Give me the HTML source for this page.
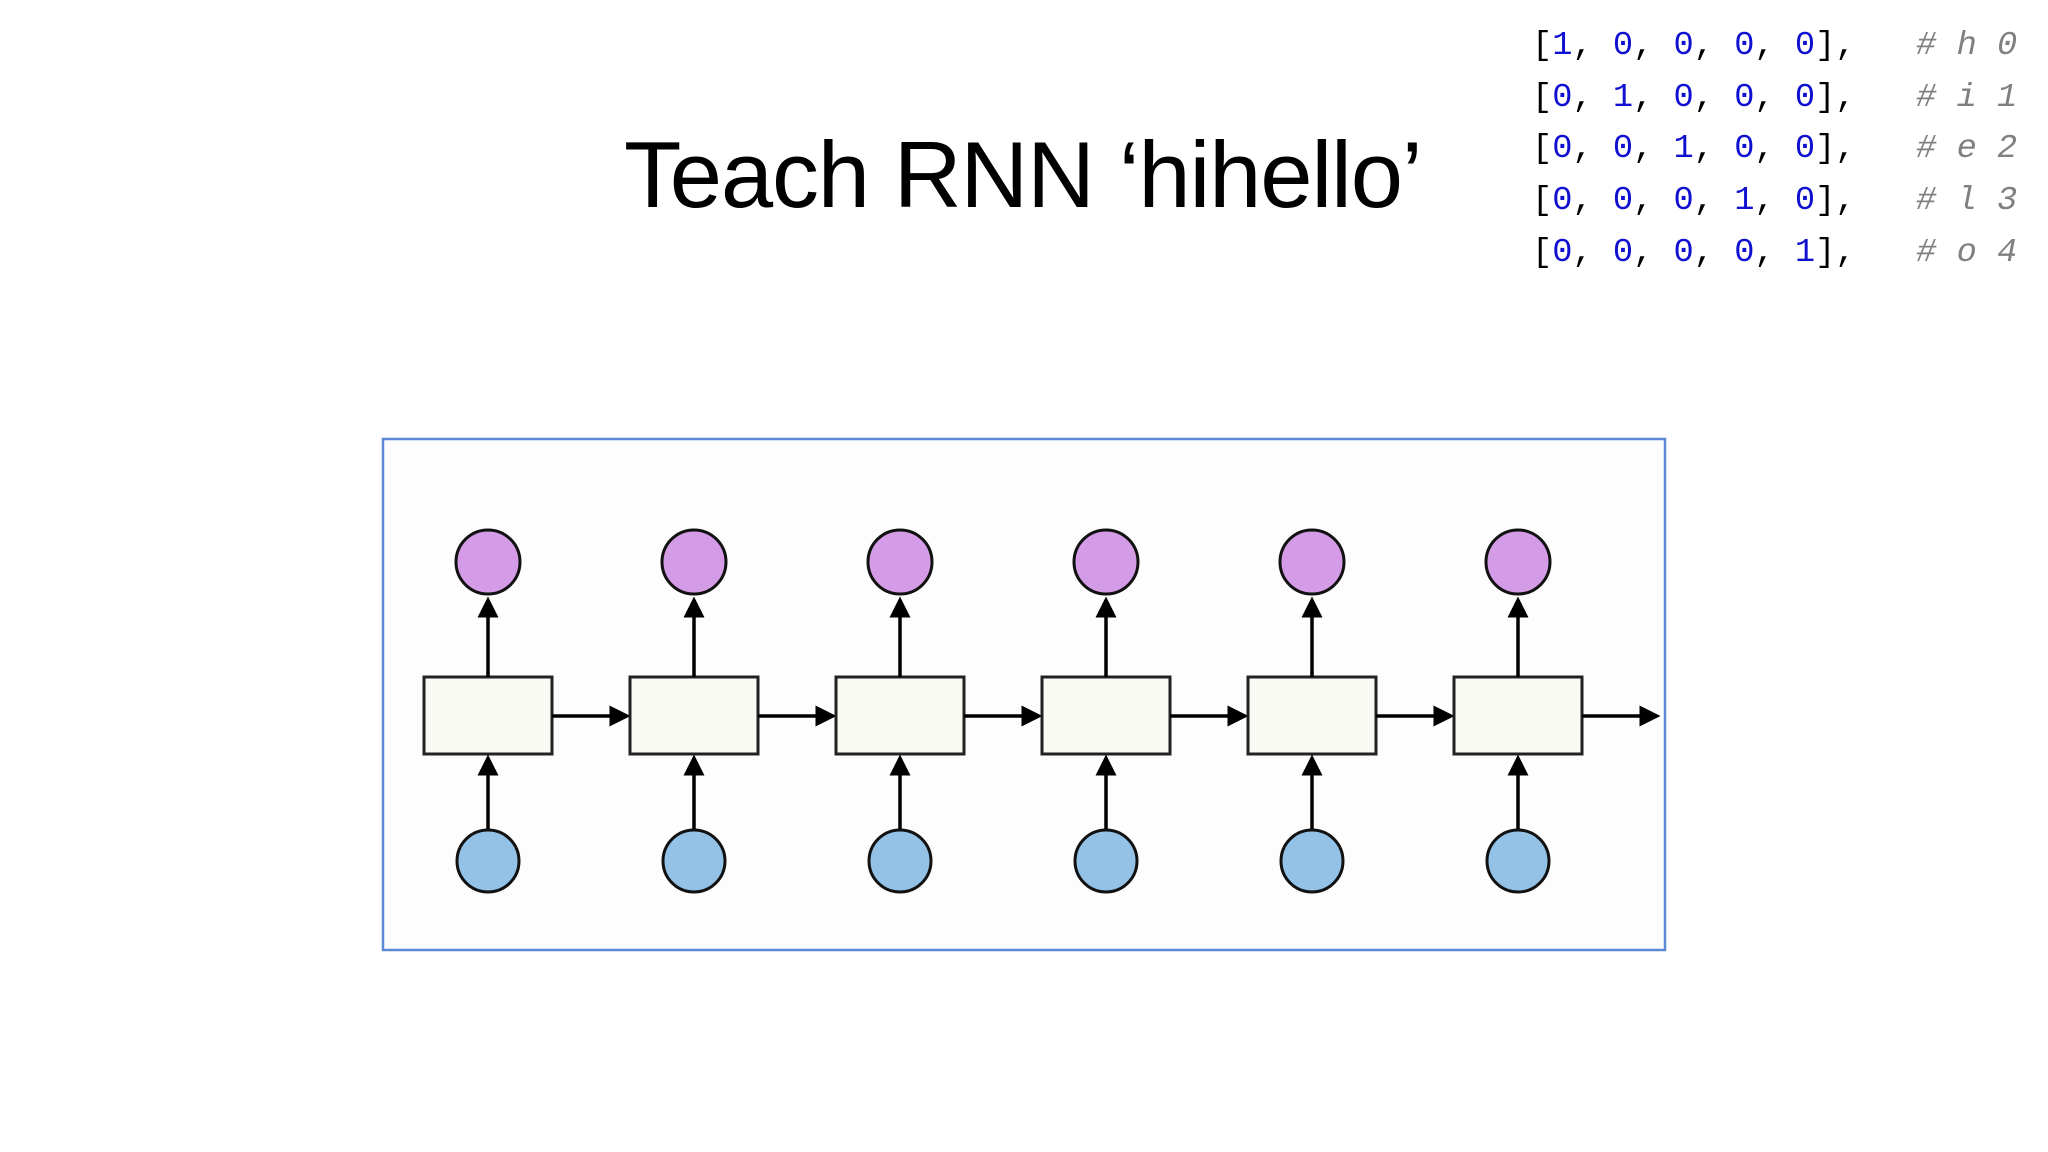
<!DOCTYPE html>
<html><head><meta charset="utf-8"><style>
body{margin:0;width:2048px;height:1152px;background:#fff;overflow:hidden;position:relative}
.t{position:absolute;left:624px;top:121px;font:94px "Liberation Sans",sans-serif;color:#000;white-space:nowrap;letter-spacing:-1.2px}
.code{position:absolute;left:1532px;top:21px;font:33.7px/51.7px "Liberation Mono",monospace;color:#000;white-space:pre}
.n{color:#1010d0}.c{color:#808080;font-style:italic}
svg{position:absolute;left:0;top:0}
</style></head><body>
<div class="t">Teach RNN ‘hihello’</div>
<div class="code">[<span class="n">1</span>, <span class="n">0</span>, <span class="n">0</span>, <span class="n">0</span>, <span class="n">0</span>],   <span class="c"># h 0</span>
[<span class="n">0</span>, <span class="n">1</span>, <span class="n">0</span>, <span class="n">0</span>, <span class="n">0</span>],   <span class="c"># i 1</span>
[<span class="n">0</span>, <span class="n">0</span>, <span class="n">1</span>, <span class="n">0</span>, <span class="n">0</span>],   <span class="c"># e 2</span>
[<span class="n">0</span>, <span class="n">0</span>, <span class="n">0</span>, <span class="n">1</span>, <span class="n">0</span>],   <span class="c"># l 3</span>
[<span class="n">0</span>, <span class="n">0</span>, <span class="n">0</span>, <span class="n">0</span>, <span class="n">1</span>],   <span class="c"># o 4</span></div>
<svg width="2048" height="1152">
<defs><marker id="a" markerWidth="6" markerHeight="6" refX="5" refY="3" orient="auto" markerUnits="strokeWidth"><path d="M0,0L6,3L0,6z" fill="#000"/></marker></defs>
<rect x="383" y="439" width="1282" height="511" fill="#fdfdfd" stroke="#5b8ad6" stroke-width="2.5"/>
<g id="u">
<circle cx="488" cy="562" r="32" fill="#d49be6" stroke="#111" stroke-width="3"/>
<circle cx="488" cy="861" r="31" fill="#93c2e6" stroke="#111" stroke-width="3"/>
<rect x="424" y="677" width="128" height="77" fill="#f8faf3" stroke="#222" stroke-width="3"/>
<line x1="488" y1="677" x2="488" y2="600" stroke="#000" stroke-width="3.5" marker-end="url(#a)"/>
<line x1="488" y1="829" x2="488" y2="758" stroke="#000" stroke-width="3.5" marker-end="url(#a)"/>
<line x1="552" y1="716" x2="627" y2="716" stroke="#000" stroke-width="3.5" marker-end="url(#a)"/>
</g>
<use href="#u" x="206"/><use href="#u" x="412"/><use href="#u" x="618"/><use href="#u" x="824"/><use href="#u" x="1030"/>
</svg>
</body></html>
